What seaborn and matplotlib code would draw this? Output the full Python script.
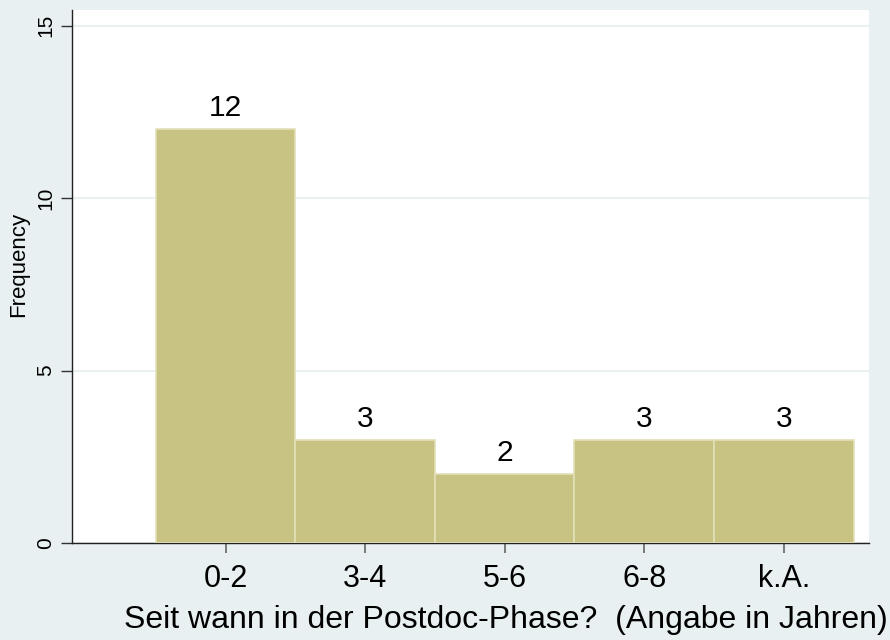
import pandas as pd
import matplotlib
matplotlib.use("Agg")
import matplotlib.pyplot as plt
import seaborn as sns

categories = ["0-2", "3-4", "5-6", "6-8", "k.A."]
counts = [12, 3, 2, 3, 3]

bg = "#E8F0F2"
bar_color = "#C9C383"

sns.set_theme(style="white")
plt.rcParams["font.family"] = ["Liberation Sans", "DejaVu Sans"]
plt.rcParams["text.color"] = "black"
plt.rcParams["axes.labelcolor"] = "black"
plt.rcParams["xtick.color"] = "black"
plt.rcParams["ytick.color"] = "black"

df = pd.DataFrame({"category": categories, "Frequency": counts})

fig = plt.figure(figsize=(8.9, 6.4), dpi=100, facecolor=bg)
ax = fig.add_axes([72 / 890, 1 - 543 / 640, (869 - 72) / 890, (543 - 10) / 640])
ax.set_facecolor("white")

sns.barplot(data=df, x="category", y="Frequency", color=bar_color, width=1.0,
            saturation=1, edgecolor="#E3DFB8", linewidth=1.2, ax=ax, zorder=3)
ax.bar_label(ax.containers[0], labels=[str(c) for c in counts], padding=5,
             fontsize=21.5, color="black")

ax.set_xlim(-1.1, 4.61)
ax.set_ylim(0, 15.46)
ax.set_yticks([0, 5, 10, 15])
ax.set_yticklabels(["0", "5", "10", "15"], rotation=90, va="center", fontsize=15)
ax.tick_params(axis="y", length=8, width=1, color="#333333", pad=4, left=True)
ax.tick_params(axis="x", length=7, width=1.2, color="#666666", labelsize=22, pad=8, bottom=True)
ax.yaxis.grid(True, color=bg, linewidth=1.5, zorder=0)
ax.set_axisbelow(True)

for side in ["top", "right"]:
    ax.spines[side].set_visible(False)
for side in ["left", "bottom"]:
    ax.spines[side].set_color("#222222")
    ax.spines[side].set_linewidth(1)

ax.set_ylabel("Frequency", fontsize=16)
ax.yaxis.set_label_coords(-0.054, 0.522)
ax.set_xlabel("Seit wann in der Postdoc-Phase?  (Angabe in Jahren)", fontsize=23)
ax.xaxis.set_label_coords(0.545, -0.117)

fig.savefig("out.png", dpi=100, facecolor=bg)
